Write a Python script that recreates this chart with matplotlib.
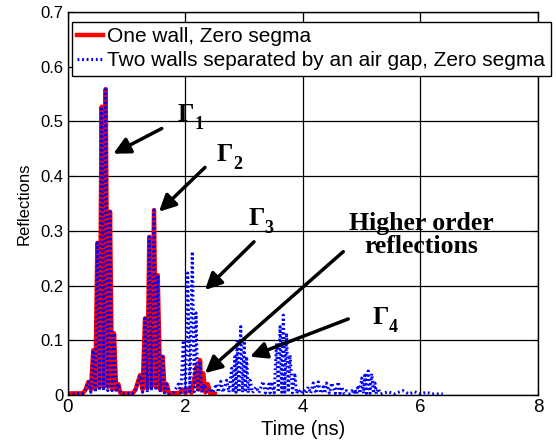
import matplotlib
matplotlib.use('Agg')
import matplotlib.pyplot as plt

plt.rcParams['font.family'] = 'Liberation Sans'

# reflection traces (time in ns, reflection magnitude), peaks and troughs
t_two = [0.0, 0.25, 0.30, 0.346, 0.39, 0.43, 0.465, 0.50, 0.537, 0.573, 0.607, 0.641,
         0.678, 0.715, 0.75, 0.783, 0.82, 0.857, 0.89, 0.95, 1.10, 1.15, 1.226, 1.27,
         1.311, 1.35, 1.384, 1.42, 1.464, 1.50, 1.527, 1.57, 1.612, 1.645, 1.68, 1.72,
         1.80, 1.878, 1.92, 1.963, 2.0, 2.037, 2.075, 2.116, 2.15, 2.179, 2.21, 2.247,
         2.28, 2.32, 2.36, 2.42, 2.47, 2.52, 2.56, 2.60, 2.64, 2.70, 2.74, 2.786, 2.81,
         2.84, 2.86, 2.88, 2.91, 2.94, 2.97, 3.0, 3.02, 3.04, 3.07, 3.10, 3.14, 3.20,
         3.25, 3.32, 3.36, 3.42, 3.44, 3.467, 3.51, 3.55, 3.58, 3.61, 3.64, 3.665, 3.69,
         3.72, 3.75, 3.78, 3.82, 3.86, 3.89, 3.92, 3.96, 4.005, 4.05, 4.09, 4.13, 4.175,
         4.22, 4.26, 4.30, 4.345, 4.37, 4.40, 4.45, 4.49, 4.55, 4.60, 4.63, 4.66, 4.70,
         4.74, 4.79, 4.83, 4.86, 4.885, 4.91, 4.94, 4.97, 5.0, 5.03, 5.055, 5.08, 5.11,
         5.14, 5.17, 5.20, 5.225, 5.25, 5.28, 5.32, 5.45, 5.55, 5.70, 5.80, 5.90, 6.0,
         6.1, 6.2, 6.38]
r_two = [0.003, 0.003, 0.01, 0.024, 0.005, 0.082, 0.005, 0.278, 0.008, 0.527, 0.008, 0.559,
         0.008, 0.335, 0.008, 0.113, 0.005, 0.02, 0.004, 0.003, 0.003, 0.01, 0.036, 0.005,
         0.14, 0.005, 0.289, 0.008, 0.338, 0.008, 0.219, 0.005, 0.07, 0.004, 0.02, 0.003,
         0.005, 0.02, 0.004, 0.10, 0.005, 0.223, 0.006, 0.262, 0.006, 0.15, 0.005, 0.058,
         0.004, 0.02, 0.004, 0.012, 0.004, 0.02, 0.005, 0.025, 0.005, 0.027, 0.005, 0.049, 0.005,
         0.07, 0.005, 0.10, 0.005, 0.125, 0.005, 0.107, 0.005, 0.07, 0.004, 0.027, 0.004, 0.015,
         0.004, 0.025, 0.004, 0.02, 0.004, 0.024, 0.004, 0.095, 0.005, 0.125, 0.005, 0.146, 0.005,
         0.113, 0.005, 0.073, 0.004, 0.04, 0.003, 0.01, 0.003, 0.01, 0.003, 0.015, 0.003, 0.022,
         0.003, 0.024, 0.003, 0.015, 0.003, 0.022, 0.003, 0.022, 0.003, 0.024, 0.003, 0.015, 0.002,
         0.008, 0.002, 0.008, 0.002, 0.01, 0.002, 0.018, 0.003, 0.031, 0.003, 0.04, 0.003, 0.044,
         0.003, 0.039, 0.003, 0.022, 0.002, 0.012, 0.002, 0.006, 0.002, 0.008, 0.002, 0.006, 0.002,
         0.005, 0.002, 0.002]

t_one = [0.0, 0.25, 0.30, 0.346, 0.39, 0.43, 0.465, 0.50, 0.537, 0.573, 0.607, 0.641,
         0.678, 0.715, 0.75, 0.783, 0.82, 0.857, 0.89, 0.95, 1.10, 1.15, 1.226, 1.27,
         1.311, 1.35, 1.384, 1.42, 1.464, 1.50, 1.527, 1.57, 1.612, 1.645, 1.68, 1.72,
         1.90, 1.95, 2.0, 2.05, 2.10, 2.15, 2.19, 2.22, 2.247, 2.27, 2.30, 2.34, 2.38,
         2.42, 2.50]
r_one = [0.003, 0.003, 0.01, 0.024, 0.01, 0.082, 0.012, 0.278, 0.015, 0.527, 0.015, 0.559,
         0.015, 0.335, 0.012, 0.113, 0.01, 0.02, 0.004, 0.003, 0.003, 0.01, 0.036, 0.01,
         0.14, 0.012, 0.289, 0.015, 0.338, 0.015, 0.219, 0.01, 0.07, 0.006, 0.02, 0.003,
         0.004, 0.01, 0.003, 0.012, 0.004, 0.03, 0.052, 0.01, 0.064, 0.01, 0.04, 0.005, 0.02,
         0.003, 0.002]

fig = plt.figure(figsize=(5.56, 4.46), dpi=100)
ax = fig.add_axes([0.1223, 0.1143, 0.8453, 0.8588])

ax.plot(t_one, r_one, color='red', lw=3.2, label='One wall, Zero segma')
ax.plot(t_two, r_two, color='blue', lw=2.2, dashes=(0.6, 0.9),
        label='Two walls separated by an air gap, Zero segma')

ax.set_xlim(0, 8)
ax.set_ylim(0, 0.7)
ax.set_xticks([0, 2, 4, 6, 8])
ax.set_yticks([0, 0.1, 0.2, 0.3, 0.4, 0.5, 0.6, 0.7])
ax.set_yticklabels(['0', '0.1', '0.2', '0.3', '0.4', '0.5', '0.6', '0.7'])
ax.tick_params(direction='in', top=True, right=True, length=4, color='k')
ax.tick_params(axis='x', labelsize=13.5, pad=3)
ax.tick_params(axis='y', labelsize=12)
ax.grid(True, color='k', lw=0.9, ls='-')
ax.set_axisbelow(True)
for s in ax.spines.values():
    s.set_linewidth(1.0)
ax.set_xlabel('Time (ns)', fontsize=14.5, labelpad=3)
ax.set_ylabel('Reflections', fontsize=12, labelpad=6)

leg = ax.legend(loc='upper left', bbox_to_anchor=(72 / 556, 1 - 22 / 446),
                bbox_transform=fig.transFigure, fontsize=15, fancybox=False,
                framealpha=1, edgecolor='k', handlelength=1.25, handletextpad=0.2,
                borderpad=0.25, labelspacing=0.25, borderaxespad=0)
leg.get_frame().set_linewidth(1.0)

# annotations
lab = dict(fontsize=18.5, fontweight='bold', family='Liberation Serif', color='k')
arr = dict(arrowstyle='-|>', lw=2.5, color='k', mutation_scale=25, shrinkA=0, shrinkB=0)

def gamma(x, y, n):
    ax.text(x, y, 'Γ', ha='left', va='baseline', **lab)
    ax.text(x + 0.28, y - 0.014, n, ha='left', va='baseline', fontsize=13,
            fontweight='bold', family='Liberation Serif')

gamma(1.87, 0.50, '1')
gamma(2.53, 0.427, '2')
gamma(3.07, 0.31, '3')
gamma(5.18, 0.13, '4')

ax.text(6.01, 0.292, 'Higher order\nreflections', ha='center', va='center',
        linespacing=1.0, **lab)

ax.annotate('', xy=(0.77, 0.441), xytext=(1.595, 0.487), arrowprops=arr)
ax.annotate('', xy=(1.549, 0.335), xytext=(2.332, 0.416), arrowprops=arr)
ax.annotate('', xy=(2.332, 0.192), xytext=(3.166, 0.280), arrowprops=arr)
ax.annotate('', xy=(2.332, 0.040), xytext=(4.686, 0.262), arrowprops=arr)
ax.annotate('', xy=(3.098, 0.070), xytext=(4.77, 0.139), arrowprops=arr)

fig.savefig('out.png', dpi=100)
